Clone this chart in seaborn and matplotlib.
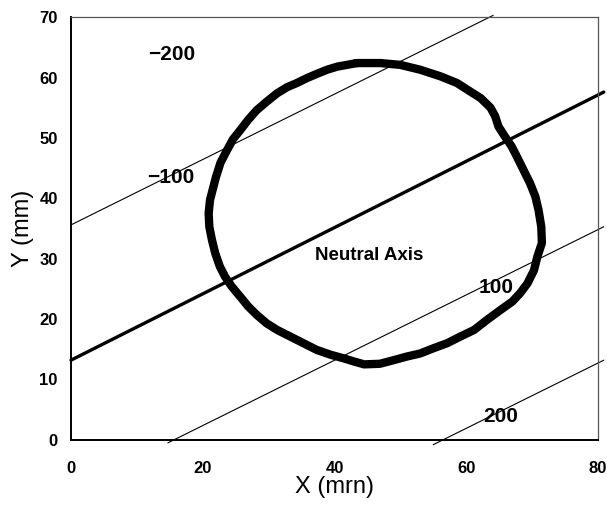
import matplotlib
matplotlib.use("Agg")
import matplotlib.pyplot as plt
import seaborn as sns
import pandas as pd

# ---- data ----
curve_x = [43.4, 47.0, 50.0, 53.0, 56.1, 58.6, 60.6, 62.2, 63.7, 64.4, 64.9, 65.9,
           66.9, 67.7, 68.7, 69.7, 70.5, 71.0, 71.4, 71.5, 70.8, 70.3, 69.3, 68.2,
           67.0, 65.2, 63.2, 61.2, 59.1, 57.1, 55.1, 53.0, 51.0, 49.0, 46.9, 44.5,
           42.9, 41.4, 39.4, 37.3, 35.3, 33.3, 31.3, 29.7, 28.2, 26.9, 25.7, 24.4,
           23.4, 22.6, 21.9, 21.4, 21.0, 20.9, 21.1, 21.5, 22.0, 22.7, 23.7, 24.6,
           25.7, 26.9, 28.2, 29.7, 31.3, 32.8, 34.3, 35.8, 37.3, 38.9, 40.4, 41.9,
           43.4]
curve_y = [62.4, 62.4, 62.1, 61.3, 60.2, 59.1, 57.7, 56.6, 55.0, 53.6, 51.9, 50.2,
           48.6, 46.9, 44.7, 42.5, 40.3, 38.0, 35.3, 32.6, 30.3, 28.1, 25.9, 24.3,
           22.9, 21.5, 19.9, 18.2, 17.1, 16.0, 15.2, 14.3, 13.8, 13.2, 12.6, 12.5,
           13.0, 13.5, 14.1, 14.9, 16.0, 17.1, 18.2, 19.3, 20.7, 22.1, 23.7, 25.4,
           27.0, 28.7, 30.9, 33.1, 35.3, 37.5, 39.7, 41.4, 43.5, 45.9, 48.0, 49.8,
           51.3, 53.0, 54.6, 56.0, 57.4, 58.4, 59.1, 59.9, 60.6, 61.3, 61.8, 62.1,
           62.4]

neutral_x = [0.0, 80.9]
neutral_y = [13.2, 57.6]
m100_x = [0.0, 64.1]
m100_y = [35.6, 70.3]
p100_x = [14.7, 80.9]
p100_y = [-0.5, 35.3]
p200_x = [55.0, 80.9]
p200_y = [-0.8, 13.2]

labels = ["\u2212200", "\u2212100", "100", "200"]
label_x = [15.3, 15.2, 64.5, 65.3]
label_y = [63.8, 43.5, 25.3, 3.8]

x_ticks = [0, 20, 40, 60, 80]
y_ticks = [0, 10, 20, 30, 40, 50, 60, 70]

# ---- figure ----
sns.set_theme(style="white")
plt.rcParams['font.family'] = ['Liberation Sans', 'DejaVu Sans']

fig = plt.figure(figsize=(6.07, 5.05), dpi=100)
ax = fig.add_axes([0.117, 0.129, 0.868, 0.837])

curve = pd.DataFrame({"x": curve_x, "y": curve_y})
sns.lineplot(data=curve, x="x", y="y", sort=False, estimator=None, ax=ax,
             color="black", linewidth=6.0, solid_capstyle="round", solid_joinstyle="round")

for xs, ys, lw in [(neutral_x, neutral_y, 2.4), (m100_x, m100_y, 0.8),
                   (p100_x, p100_y, 0.8), (p200_x, p200_y, 0.8)]:
    sns.lineplot(x=xs, y=ys, ax=ax, color="black", linewidth=lw, clip_on=False)

for t, x, y in zip(labels, label_x, label_y):
    ax.text(x, y, t, ha="center", va="center", fontsize=15, fontweight="bold",
            color="black")
ax.text(45.2, 30.6, "Neutral Axis", ha="center", va="center", fontsize=13.5,
        fontweight="bold", color="black")

ax.set_xlim(0, 80)
ax.set_ylim(0, 70)
ax.set_xticks(x_ticks)
ax.set_yticks(y_ticks)
ax.set_xticklabels([str(v) for v in x_ticks], fontsize=12, fontweight="bold")
ax.set_yticklabels([str(v) for v in y_ticks], fontsize=12, fontweight="bold")
ax.tick_params(axis="both", direction="in", length=4, width=1, color="black",
               labelcolor="black")
ax.tick_params(axis="x", pad=15)
ax.tick_params(axis="y", pad=9.5)
ax.set_xlabel("X (mrn)", fontsize=17, color="black", labelpad=0)
ax.set_ylabel("Y (mm)", fontsize=17, color="black", labelpad=4)

for side in ["left", "bottom"]:
    ax.spines[side].set_color("black")
    ax.spines[side].set_linewidth(1.4)
for side in ["top", "right"]:
    ax.spines[side].set_color("#555555")
    ax.spines[side].set_linewidth(0.9)

fig.savefig("out.png", dpi=100, facecolor="white")
